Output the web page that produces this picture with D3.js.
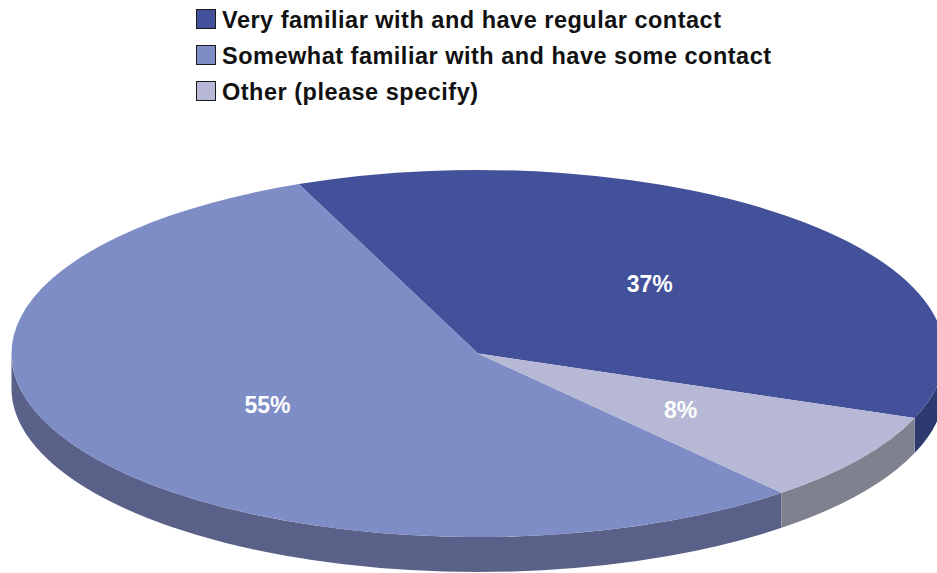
<!DOCTYPE html>
<html>
<head>
<meta charset="utf-8">
<script src="https://cdn.jsdelivr.net/npm/d3@7"></script>
<style>
  body { margin: 0; background: #fff; }
  svg { display: block; }
</style>
</head>
<body>
<div id="chart"></div>
<script>
// data
var categories = ["Very familiar with and have regular contact",
                  "Somewhat familiar with and have some contact",
                  "Other (please specify)"];
var values = [37, 55, 8];
var labels = ["37%", "55%", "8%"];
var topColors = ["#42519a", "#7f8dc7", "#b7b8d5"];
var sideColors = ["#2d3a70", "#5a6189", "#80818f"];

var width = 937, height = 573;
var cx = 478, cy = 353.5, rx = 466.5, ry = 183.5, depth = 35;
var k = ry / rx;

var svg = d3.select("#chart").append("svg")
  .attr("width", width)
  .attr("height", height);

// pie runs counter-clockwise from the right side
var start = 110.6 * Math.PI / 180;
var pie = d3.pie().sort(null).startAngle(start).endAngle(start - 2 * Math.PI);
var arcs = pie(values);

var g = svg.append("g")
  .attr("transform", "translate(" + cx + "," + cy + ") scale(1," + k + ")");

var d = depth / k;

function sidePath(a0, a1) {
  // angles from top, clockwise; d3.path wants angles from +x
  var p = d3.path();
  var t0 = a0 - Math.PI / 2, t1 = a1 - Math.PI / 2;
  p.moveTo(rx * Math.cos(t0), rx * Math.sin(t0));
  p.arc(0, 0, rx, t0, t1, false);
  p.lineTo(rx * Math.cos(t1), rx * Math.sin(t1) + d);
  p.arc(0, d, rx, t1, t0, true);
  p.closePath();
  return p.toString();
}

// visible front part of each slice wall
arcs.forEach(function(a, i) {
  var lo = Math.min(a.startAngle, a.endAngle),
      hi = Math.max(a.startAngle, a.endAngle);
  for (var n = -2; n <= 2; n++) {
    var f0 = Math.PI / 2 + 2 * Math.PI * n,
        f1 = 3 * Math.PI / 2 + 2 * Math.PI * n;
    var s = Math.max(lo, f0), e = Math.min(hi, f1);
    if (e > s) {
      g.append("path")
        .attr("d", sidePath(s, e))
        .attr("fill", sideColors[i]);
    }
  }
});

var arc = d3.arc().innerRadius(0).outerRadius(rx);

g.selectAll("path.top")
  .data(arcs)
  .enter().append("path")
  .attr("class", "top")
  .attr("d", arc)
  .attr("fill", function(a, i) { return topColors[i]; });

// percentage labels
var labelArc = d3.arc().innerRadius(rx * 0.53).outerRadius(rx * 0.53);
svg.selectAll("text.pct")
  .data(arcs)
  .enter().append("text")
  .attr("class", "pct")
  .attr("x", function(a) { return cx + labelArc.centroid(a)[0]; })
  .attr("y", function(a) { return cy + labelArc.centroid(a)[1] * k; })
  .attr("dy", "0.36em")
  .attr("text-anchor", "middle")
  .attr("fill", "#fff")
  .style("font", "bold 23px 'Liberation Sans', Arial, sans-serif")
  .text(function(a, i) { return labels[i]; });

// legend
var legend = svg.append("g").attr("transform", "translate(196,9)");
var row = legend.selectAll("g")
  .data(categories)
  .enter().append("g")
  .attr("transform", function(c, i) { return "translate(0," + i * 36 + ")"; });

row.append("rect")
  .attr("x", 0.5).attr("y", 0.5)
  .attr("width", 19).attr("height", 19)
  .attr("fill", function(c, i) { return topColors[i]; })
  .attr("stroke", "#1a1a1a");

row.append("text")
  .attr("x", 26)
  .attr("y", 19)
  .style("font", "bold 23.5px 'Liberation Sans', Arial, sans-serif")
  .style("letter-spacing", "0.5px")
  .attr("fill", "#111")
  .text(function(c) { return c; });
</script>
</body>
</html>
